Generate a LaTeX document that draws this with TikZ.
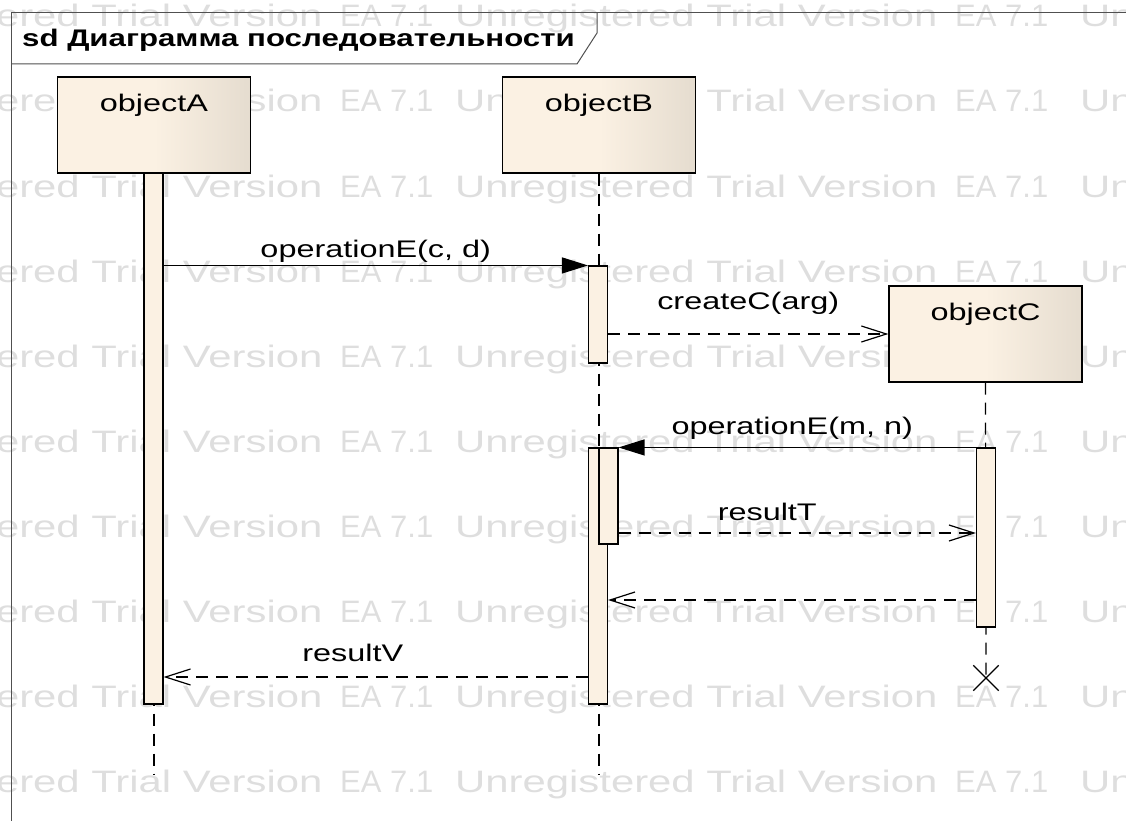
\documentclass[tikz,border=0pt]{standalone}
\usepackage{fontspec}
\setmainfont[FakeStretch=1.35]{Liberation Sans}
\newfontfamily\ttlfont[FakeStretch=1.3]{Liberation Sans}
\newfontfamily\narrowfont{Liberation Sans}
\usetikzlibrary{arrows.meta,positioning,shapes.misc}
\definecolor{objL}{HTML}{FBF1E3}
\definecolor{objR}{HTML}{E5DCCF}
\definecolor{barC}{HTML}{FBF1E3}
\definecolor{wmC}{HTML}{DEDEDE}
\definecolor{frameC}{HTML}{505050}
\newcommand\lblsize{\fontsize{24pt}{28pt}\selectfont}
\newcommand\wmsize{\fontsize{31pt}{36pt}\selectfont}

\begin{document}
\begin{tikzpicture}[x=1pt,y=-1pt,
  obj/.style={draw,line width=1.3pt,minimum width=193pt,minimum height=96pt,inner sep=0pt,
    left color=objL,right color=objR,middle color=objL},
  objtxt/.style={anchor=base,font=\lblsize},
  bar/.style={draw,line width=1.1pt,fill=barC,minimum width=19pt,inner sep=0pt},
  life/.style={line width=1.2pt,dash pattern=on 12pt off 8pt},
  call/.style={line width=1.2pt,-{Triangle[length=26pt,width=16pt]}},
  reply/.style={line width=1.2pt,dash pattern=on 12pt off 8pt,
    -{Straight Barb[length=25pt,width=16pt,line width=1.2pt]}},
  msg/.style={anchor=base,font=\lblsize,inner sep=0pt},
  wm/.style={anchor=base west,font=\wmsize,text=wmC,inner sep=0pt},
  frame/.style={line width=1pt,draw=frameC}]
  \useasboundingbox (0,0) rectangle (1126,821);
  \begin{scope}
    \clip (0,0) rectangle (1126,821);
    \foreach \yy in {27,112,...,792} {
      \node[wm] (wmU\yy) at (-160,\yy) {Unregistered Trial Version};
      \node[wm] (wmE\yy) at (340,\yy) {\narrowfont EA 7.1};
      \node[wm] (wmV\yy) at (455,\yy) {Unregistered Trial Version};
      \node[wm] (wmF\yy) at (955,\yy) {\narrowfont EA 7.1};
      \node[wm] (wmW\yy) at (1080,\yy) {Unregistered};
    }
  \end{scope}
  \draw[frame] (11,821) -- (11,13) -- (1126,13);
  \draw[frame] (11,64) -- (577,64) -- (597,33) -- (597,13);
  \node[anchor=base west,inner sep=0pt,font=\ttlfont\lblsize\bfseries] (title) at (22,47) {sd Диаграмма последовательности};

  \node[obj] (objA) at (154,125) {};
  \node[obj] (objB) at (599,125) {};
  \node[obj] (objC) at (985.5,334) {};
  \node[objtxt] (objAt) at ([yshift=-35pt]objA.north) {objectA};
  \node[objtxt] (objBt) at ([yshift=-35pt]objB.north) {objectB};
  \node[objtxt] (objCt) at ([yshift=-35pt]objC.north) {objectC};

  \coordinate (endA) at (154,775);
  \coordinate (endB) at (599,775);
  \node[draw,cross out,line width=1.3pt,minimum size=24pt,inner sep=0pt] (kill) at (986,678) {};
  \draw[life] (objA.south) -- (endA);
  \draw[life] (objB.south) -- (endB);
  \draw[life] (objC.south) -- (kill.center);

  \node[bar,minimum height=531pt] (a1) at (153.5,438.5) {};
  \node[bar,minimum height=97pt] (b1) at (598,314.5) {};
  \node[bar,minimum height=256pt] (b2) at (598,576) {};
  \node[bar,minimum height=96pt] (b3) at (608.5,496) {};
  \node[bar,minimum height=179pt] (c1) at (986,537.5) {};

  \coordinate (r1) at (0,533);
  \coordinate (r2) at (0,600);
  \coordinate (r3) at (0,677);

  \draw[call] (a1.east |- b1.north) -- (b1.north west)
    node[msg,midway,yshift=8pt] (m1) {operationE(c, d)};
  \draw[reply] (b1.east |- objC.west) -- (objC.west)
    node[msg,midway,yshift=25pt] (m2) {createC(arg)};
  \draw[call] (c1.north west) -- (b3.north east)
    node[msg,midway,xshift=-5pt,yshift=13pt] (m3) {operationE(m, n)};
  \draw[reply] (b3.east |- r1) -- (c1.west |- r1)
    node[msg,midway,xshift=-30pt,yshift=13pt] (m4) {resultT};
  \draw[reply] (c1.west |- r2) -- (b2.east |- r2);
  \draw[reply] (b2.west |- r3) -- (a1.east |- r3)
    node[msg,midway,xshift=-23pt,yshift=16pt] (m5) {resultV};
\end{tikzpicture}
\end{document}
